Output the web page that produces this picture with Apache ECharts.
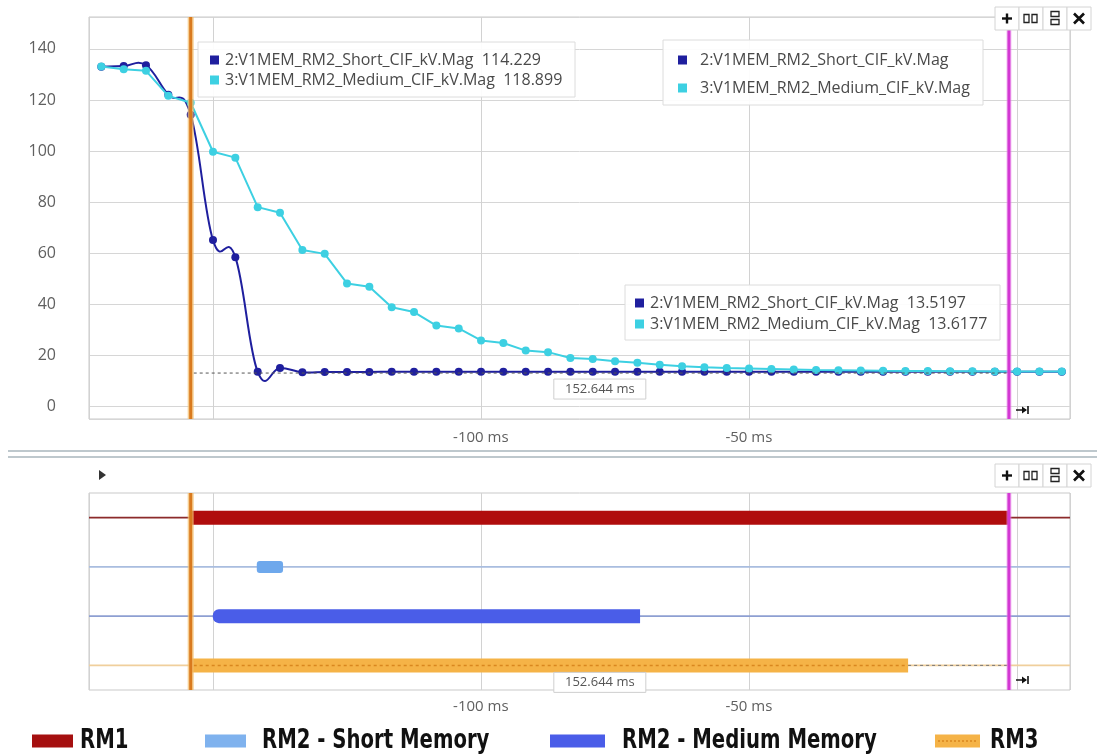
<!DOCTYPE html>
<html>
<head>
<meta charset="utf-8">
<script src="https://cdn.jsdelivr.net/npm/echarts@6/dist/echarts.min.js"></script>
<style>
  html, body { margin: 0; padding: 0; background: #ffffff; }
  #chart { width: 1097px; height: 755px; }
</style>
</head>
<body>
<div id="chart"></div>
<script>
// ---- Recorded samples (time in ms, magnitude in kV) ----
const timesMs = [
  -170.80, -166.63, -162.47, -158.30, -154.13, -149.97, -145.80, -141.63, -137.47, -133.30,
  -129.13, -124.97, -120.80, -116.63, -112.47, -108.30, -104.13, -99.97, -95.80, -91.63,
  -87.47, -83.30, -79.13, -74.97, -70.80, -66.63, -62.47, -58.30, -54.13, -49.97,
  -45.80, -41.63, -37.47, -33.30, -29.13, -24.97, -20.80, -16.63, -12.47, -8.30,
  -4.13, 0.03, 4.20, 8.37
];
const shortKV = [
  133.0, 133.3, 133.6, 122.0, 114.229, 65.1, 58.4, 13.5, 15.0, 13.3,
  13.4, 13.4, 13.45, 13.5, 13.5, 13.5, 13.5, 13.5, 13.5, 13.5,
  13.5, 13.5, 13.5, 13.5, 13.5, 13.5, 13.5, 13.5, 13.5, 13.5,
  13.5, 13.5, 13.5, 13.5, 13.5, 13.5, 13.5, 13.52, 13.52, 13.52,
  13.52, 13.5197, 13.52, 13.52
];
const mediumKV = [
  133.1, 132.0, 131.4, 121.6, 118.899, 99.7, 97.4, 78.0, 75.8, 61.2,
  59.7, 48.1, 46.8, 38.8, 36.9, 31.6, 30.5, 25.8, 24.8, 21.8,
  21.2, 18.9, 18.5, 17.6, 17.0, 16.3, 15.7, 15.3, 15.0, 14.8,
  14.6, 14.4, 14.2, 14.1, 14.0, 13.9, 13.85, 13.8, 13.75, 13.7,
  13.65, 13.6177, 13.6, 13.6
];
const seriesNames = ['2:V1MEM_RM2_Short_CIF_kV.Mag', '3:V1MEM_RM2_Medium_CIF_kV.Mag'];

// ---- Cursors and readouts ----
const cursorTimes = [-154.13, -1.49];
const readoutAtA = ['114.229', '118.899'];
const readoutAtB = ['13.5197', '13.6177'];
const deltaText = '152.644 ms';
const measureLevel = 13.0;

// ---- Axis ticks ----
const yTicks = [0, 20, 40, 60, 80, 100, 120, 140];
const xTickValues = [-100, -50];
const xTickLabels = ['-100 ms', '-50 ms'];

// ---- Digital channels (active intervals, ms) ----
const channels = ['RM1', 'RM2 - Short Memory', 'RM2 - Medium Memory', 'RM3'];
const activeStart = [-154.13, -141.8, -150.0, -154.13];
const activeEnd = [-1.49, -136.9, -70.3, -20.3];

// ---- Styling ----
const C_SHORT = '#1f1f9e';
const C_MED = '#3dd0e2';
const SPLINE_TENSION = 1.25;
const trackColors = ['#8c2b2b', '#a9bddf', '#8e9fd2', '#f0cf9c'];
const barStyle = [
  { color: '#b00d0d', h: 14, r: 0 },
  { color: '#6ea8ec', h: 12, r: 3 },
  { color: '#4a5de8', h: 14, r: [6, 0, 0, 6] },
  { color: '#f5b347', h: 14, r: 0, dots: '#d9871f' }
];
const cursorStyle = [
  { color: '#d97a1e', width: 3, glow: 'rgba(243,190,110,0.75)', glowWidth: 6 },
  { color: '#d338d3', width: 3, glow: 'rgba(235,140,235,0.55)', glowWidth: 5 }
];
const FONT = "'Open Sans', 'Noto Sans', sans-serif";
const LEGEND_FONT = "bold 27px 'Liberation Sans Narrow', 'DejaVu Sans Condensed', sans-serif";
const X_MIN = -173.1, X_MAX = 9.9;
const TOP_Z = 120;

const chart = echarts.init(document.getElementById('chart'), null, { renderer: 'canvas' });

function xLabel(v) {
  const i = xTickValues.findIndex(t => Math.abs(t - v) < 1e-6);
  return i >= 0 ? xTickLabels[i] : '';
}
function yLabel(v) {
  const i = yTicks.findIndex(t => Math.abs(t - v) < 1e-6);
  return i >= 0 ? String(yTicks[i]) : '';
}

// Cardinal spline through the short-memory samples, one segment per sample
function renderShortCurve(params, api) {
  const n = timesMs.length;
  const i = params.dataIndex;
  if (i >= n - 1) return null;
  const P = j => {
    const k = Math.max(0, Math.min(n - 1, j));
    return api.coord([timesMs[k], shortKV[k]]);
  };
  const p0 = P(i - 1), p1 = P(i), p2 = P(i + 1), p3 = P(i + 2);
  const k = SPLINE_TENSION / 6;
  return {
    type: 'bezierCurve',
    shape: {
      x1: p1[0], y1: p1[1], x2: p2[0], y2: p2[1],
      cpx1: p1[0] + (p2[0] - p0[0]) * k, cpy1: p1[1] + (p2[1] - p0[1]) * k,
      cpx2: p2[0] - (p3[0] - p1[0]) * k, cpy2: p2[1] - (p3[1] - p1[1]) * k
    },
    style: { stroke: C_SHORT, lineWidth: 2, fill: 'none' }
  };
}

function renderCursor(params, api) {
  const x = api.coord([api.value(0), api.value(1)])[0];
  const cs = params.coordSys;
  const st = cursorStyle[params.dataIndex];
  const shape = { x1: x, y1: cs.y, x2: x, y2: cs.y + cs.height };
  return {
    type: 'group',
    children: [
      { type: 'line', shape, style: { stroke: st.glow, lineWidth: st.glowWidth } },
      { type: 'line', shape, style: { stroke: st.color, lineWidth: st.width } }
    ]
  };
}

function deltaBox(cx, topY) {
  return [
    { type: 'rect', shape: { x: cx - 46, y: topY, width: 92, height: 20 },
      style: { fill: '#ffffff', stroke: '#cfcfcf', lineWidth: 1 } },
    { type: 'text', x: cx, y: topY + 10,
      style: { text: deltaText, fill: '#555555', font: '13px ' + FONT, align: 'center', verticalAlign: 'middle' } }
  ];
}

function renderMeasureTop(params, api) {
  const a = api.coord([api.value(0), api.value(2)]);
  const b = api.coord([api.value(1), api.value(2)]);
  const cx = (a[0] + b[0]) / 2;
  return {
    type: 'group',
    children: [
      { type: 'line', shape: { x1: a[0] + 3, y1: a[1], x2: b[0], y2: b[1] },
        style: { stroke: '#555555', lineWidth: 1, lineDash: [3, 3] } }
    ].concat(deltaBox(cx, a[1] + 6))
  };
}

function renderTrack(params, api) {
  const row = api.value(1);
  const y = api.coord([api.value(0), row])[1];
  const cs = params.coordSys;
  return { type: 'line', shape: { x1: cs.x, y1: y, x2: cs.x + cs.width, y2: y },
    style: { stroke: trackColors[row], lineWidth: 1.6 } };
}

function renderBar(params, api) {
  const row = api.value(2);
  const p0 = api.coord([api.value(0), row]);
  const p1 = api.coord([api.value(1), row]);
  const st = barStyle[row];
  const children = [{ type: 'rect',
    shape: { x: p0[0], y: p0[1] - st.h / 2, width: p1[0] - p0[0], height: st.h, r: st.r },
    style: { fill: st.color } }];
  if (st.dots) {
    children.push({ type: 'line', shape: { x1: p0[0] + 3, y1: p0[1], x2: p1[0] - 2, y2: p1[1] },
      style: { stroke: st.dots, lineWidth: 1.5, lineDash: [3, 3] } });
  }
  return { type: 'group', children };
}

function renderMeasureBottom(params, api) {
  const row = api.value(2);
  const a = api.coord([api.value(0), row]);
  const b = api.coord([api.value(1), row]);
  const ca = api.coord([cursorTimes[0], row]);
  const cx = (ca[0] + b[0]) / 2;
  return {
    type: 'group',
    children: [
      { type: 'line', shape: { x1: a[0], y1: a[1], x2: b[0], y2: b[1] },
        style: { stroke: '#777777', lineWidth: 1, lineDash: [3, 3] } }
    ].concat(deltaBox(cx, a[1] + 7))
  };
}

// ---- Overlay widgets ----
function readoutBox(x, y, w, h, rows) {
  const children = [{ type: 'rect', z: TOP_Z, shape: { x: 0, y: 0, width: w, height: h },
    style: { fill: 'rgba(255,255,255,0.93)', stroke: '#dcdcdc', lineWidth: 1 } }];
  rows.forEach(r => {
    children.push({ type: 'rect', z: TOP_Z, shape: { x: r.sx, y: r.y - 4.5, width: 9, height: 9 }, style: { fill: r.color } });
    children.push({ type: 'text', z: TOP_Z, x: r.tx, y: r.y,
      style: { text: r.text, fill: '#4a4a4a', font: '16px ' + FONT, verticalAlign: 'middle' } });
  });
  return { type: 'group', x, y, z: TOP_Z, children };
}

function toolbar(y) {
  const x0 = 995, w = 24, h = 23;
  const kids = [];
  for (let i = 0; i < 4; i++) {
    kids.push({ type: 'rect', shape: { x: x0 + i * w, y, width: w, height: h },
      style: { fill: '#ffffff', stroke: '#d4d4d4', lineWidth: 1 } });
  }
  const cy = y + h / 2;
  kids.push({ type: 'rect', shape: { x: x0 + 7, y: cy - 1.2, width: 10, height: 2.4 }, style: { fill: '#111' } });
  kids.push({ type: 'rect', shape: { x: x0 + 10.8, y: cy - 5, width: 2.4, height: 10 }, style: { fill: '#111' } });
  kids.push({ type: 'rect', shape: { x: x0 + w + 5, y: cy - 4, width: 5, height: 8 }, style: { fill: 'none', stroke: '#222', lineWidth: 1.3 } });
  kids.push({ type: 'rect', shape: { x: x0 + w + 13, y: cy - 4, width: 5, height: 8 }, style: { fill: 'none', stroke: '#222', lineWidth: 1.3 } });
  kids.push({ type: 'rect', shape: { x: x0 + 2 * w + 8, y: cy - 7, width: 8, height: 5 }, style: { fill: 'none', stroke: '#222', lineWidth: 1.3 } });
  kids.push({ type: 'rect', shape: { x: x0 + 2 * w + 8, y: cy + 1, width: 8, height: 5 }, style: { fill: 'none', stroke: '#222', lineWidth: 1.3 } });
  kids.push({ type: 'line', shape: { x1: x0 + 3 * w + 7, y1: cy - 5, x2: x0 + 3 * w + 17, y2: cy + 5 }, style: { stroke: '#111', lineWidth: 2.6 } });
  kids.push({ type: 'line', shape: { x1: x0 + 3 * w + 17, y1: cy - 5, x2: x0 + 3 * w + 7, y2: cy + 5 }, style: { stroke: '#111', lineWidth: 2.6 } });
  kids.forEach(k => { k.z = TOP_Z + 5; });
  return { type: 'group', z: TOP_Z + 5, children: kids };
}

function pin(x, y) {
  return { type: 'group', z: TOP_Z, children: [
    { type: 'line', z: TOP_Z, shape: { x1: x - 6, y1: y, x2: x + 4, y2: y }, style: { stroke: '#111', lineWidth: 1.5 } },
    { type: 'polygon', z: TOP_Z, shape: { points: [[x + 5, y], [x, y - 3.5], [x, y + 3.5]] }, style: { fill: '#111' } },
    { type: 'line', z: TOP_Z, shape: { x1: x + 6, y1: y - 4, x2: x + 6, y2: y + 4 }, style: { stroke: '#111', lineWidth: 1.6 } }
  ] };
}

function legendItem(sx, sw, color, tx, label, dots) {
  const y = 741;
  const kids = [
    { type: 'rect', shape: { x: sx, y: y - 6.5, width: sw, height: 13 }, style: { fill: color } },
    { type: 'text', x: tx, y: y, scaleX: 0.81,
      style: { text: label, fill: '#111111', font: LEGEND_FONT, verticalAlign: 'middle' } }
  ];
  if (dots) {
    kids.push({ type: 'line', shape: { x1: sx + 3, y1: y, x2: sx + sw - 3, y2: y }, style: { stroke: dots, lineWidth: 1.5, lineDash: [2, 2] } });
  }
  return { type: 'group', z: TOP_Z, children: kids };
}

const legendColors = ['#a50f0f', '#7fb2ee', '#4a5de8', '#f5b347'];

const graphics = [
  { type: 'line', shape: { x1: 8, y1: 451, x2: 1097, y2: 451 }, style: { stroke: '#a9b6bd', lineWidth: 1.5 } },
  { type: 'line', shape: { x1: 8, y1: 457, x2: 1097, y2: 457 }, style: { stroke: '#a9b6bd', lineWidth: 1.5 } },
  { type: 'polygon', shape: { points: [[99, 470], [99, 480], [106, 475]] }, style: { fill: '#333' } },
  readoutBox(198, 42, 377, 55, [
    { sx: 12, tx: 27, y: 18, color: C_SHORT, text: seriesNames[0] + '  ' + readoutAtA[0] },
    { sx: 12, tx: 27, y: 38, color: C_MED, text: seriesNames[1] + '  ' + readoutAtA[1] }
  ]),
  readoutBox(663, 40, 320, 65, [
    { sx: 15, tx: 37, y: 20, color: C_SHORT, text: seriesNames[0] },
    { sx: 15, tx: 37, y: 48, color: C_MED, text: seriesNames[1] }
  ]),
  readoutBox(625, 285, 375, 55, [
    { sx: 10, tx: 25, y: 18, color: C_SHORT, text: seriesNames[0] + '  ' + readoutAtB[0] },
    { sx: 10, tx: 25, y: 39, color: C_MED, text: seriesNames[1] + '  ' + readoutAtB[1] }
  ]),
  toolbar(7),
  toolbar(464),
  pin(1022, 410),
  pin(1022, 680),
  legendItem(32, 41, legendColors[0], 80, channels[0]),
  legendItem(205, 41, legendColors[1], 262, channels[1]),
  legendItem(550, 55, legendColors[2], 622, channels[2]),
  legendItem(935, 45, legendColors[3], 990, channels[3], '#d9871f')
];

const xAxisCommon = {
  type: 'value', min: X_MIN, max: X_MAX, minInterval: 50, maxInterval: 50,
  axisLine: { show: false }, axisTick: { show: false },
  splitLine: { show: true, lineStyle: { color: '#d2d2d2', width: 1 } },
  axisLabel: { formatter: xLabel, color: '#606060', fontSize: 15, fontFamily: FONT, showMinLabel: true, showMaxLabel: true }
};

const option = {
  animation: false,
  backgroundColor: '#ffffff',
  grid: [
    { left: 89, right: 27, top: 17, height: 402, show: true, borderColor: '#c9c9c9', borderWidth: 1, backgroundColor: 'transparent' },
    { left: 89, right: 27, top: 493, height: 197, show: true, borderColor: '#c9c9c9', borderWidth: 1, backgroundColor: 'transparent' }
  ],
  xAxis: [
    Object.assign({ gridIndex: 0 }, xAxisCommon, { axisLabel: Object.assign({}, xAxisCommon.axisLabel, { margin: 11 }) }),
    Object.assign({ gridIndex: 1 }, xAxisCommon, { axisLabel: Object.assign({}, xAxisCommon.axisLabel, { margin: 9 }) })
  ],
  yAxis: [
    { gridIndex: 0, type: 'value', min: -5, max: 152.5, minInterval: 20, maxInterval: 20,
      axisLine: { show: false }, axisTick: { show: false },
      splitLine: { show: true, lineStyle: { color: '#d6d6d6', width: 1 } },
      axisLabel: { formatter: yLabel, color: '#606060', fontSize: 16, fontFamily: FONT, margin: 33 } },
    { gridIndex: 1, type: 'category', data: channels, inverse: true, show: false }
  ],
  series: [
    {
      type: 'custom', xAxisIndex: 0, yAxisIndex: 0, z: 2,
      renderItem: renderShortCurve, encode: { x: 0, y: 1 },
      data: timesMs.map((t, i) => [t, shortKV[i]])
    },
    {
      name: seriesNames[0], type: 'line', xAxisIndex: 0, yAxisIndex: 0,
      data: timesMs.map((t, i) => [t, shortKV[i]]),
      symbol: 'circle', symbolSize: 8, z: 3,
      lineStyle: { width: 0, opacity: 0 }, itemStyle: { color: C_SHORT }
    },
    {
      name: seriesNames[1], type: 'line', xAxisIndex: 0, yAxisIndex: 0,
      data: timesMs.map((t, i) => [t, mediumKV[i]]),
      symbol: 'circle', symbolSize: 8, z: 4,
      lineStyle: { color: C_MED, width: 2 }, itemStyle: { color: C_MED }
    },
    {
      type: 'custom', xAxisIndex: 0, yAxisIndex: 0, z: 5,
      renderItem: renderMeasureTop,
      encode: { x: [0, 1], y: 2 },
      data: [[cursorTimes[0], cursorTimes[1], measureLevel]]
    },
    {
      type: 'custom', xAxisIndex: 0, yAxisIndex: 0, z: 6,
      renderItem: renderCursor, encode: { x: 0, y: 1 },
      data: cursorTimes.map(t => [t, 0])
    },
    {
      type: 'custom', xAxisIndex: 1, yAxisIndex: 1, z: 2,
      renderItem: renderTrack, encode: { x: 0, y: 1 },
      data: channels.map((c, i) => [activeStart[i], i])
    },
    {
      type: 'custom', xAxisIndex: 1, yAxisIndex: 1, z: 3,
      renderItem: renderBar, encode: { x: [0, 1], y: 2 },
      data: channels.map((c, i) => [activeStart[i], activeEnd[i], i])
    },
    {
      type: 'custom', xAxisIndex: 1, yAxisIndex: 1, z: 4,
      renderItem: renderMeasureBottom, encode: { x: [0, 1], y: 2 },
      data: [[activeEnd[3], cursorTimes[1], 3]]
    },
    {
      type: 'custom', xAxisIndex: 1, yAxisIndex: 1, z: 6,
      renderItem: renderCursor, encode: { x: 0, y: 1 },
      data: cursorTimes.map(t => [t, 0])
    }
  ],
  graphic: graphics
};

chart.setOption(option);
</script>
</body>
</html>
